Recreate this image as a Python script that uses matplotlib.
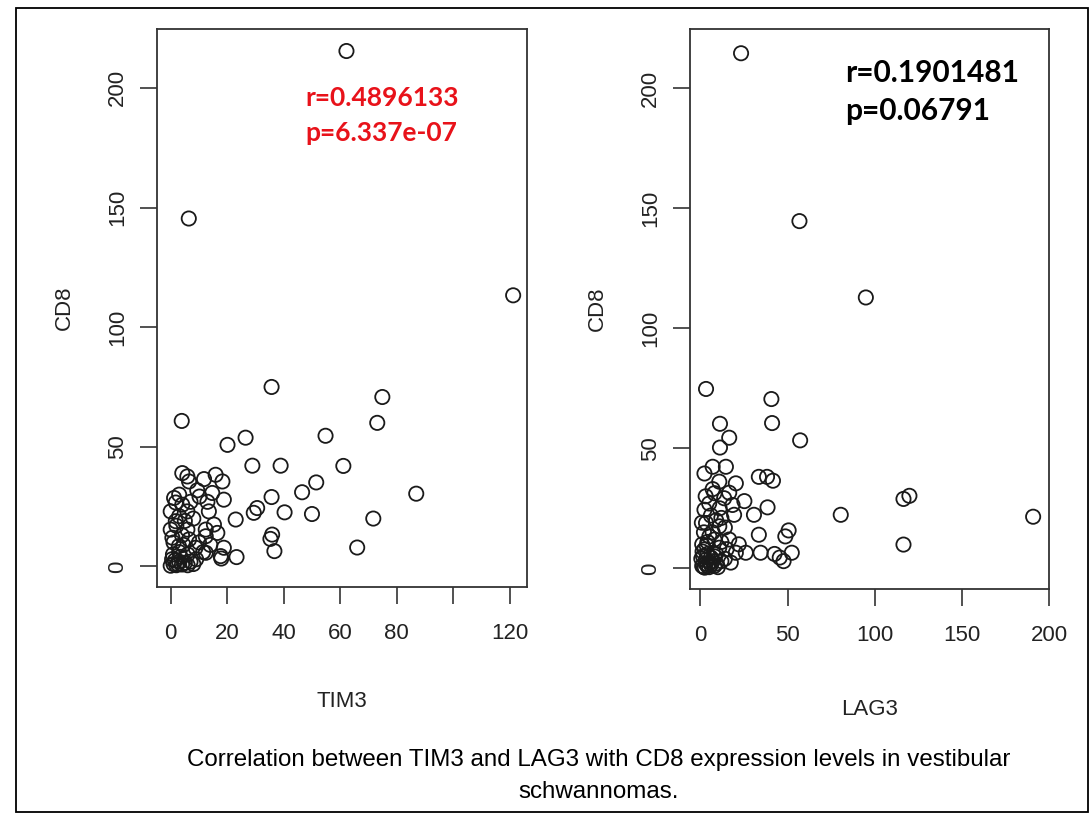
import matplotlib.pyplot as plt
from matplotlib.patches import Rectangle

# TIM3 vs CD8 (left panel)
tim3 = [62.2, 6.4, 121.2, 35.7, 74.9, 3.9, 73.1, 26.5, 54.8, 20.1, 28.9, 38.9, 61.1,
        46.5, 51.5, 86.9, 35.7, 30.6, 29.4, 40.3, 50.0, 71.7, 66.0, 23.0, 35.9, 35.3,
        36.7, 23.3, 17.9, 18.8,
        4.1, 5.9, 6.5, 11.8, 15.9, 18.3, 9.4, 14.7, 18.8, 10.2, 1.2, 4.1, 5.9, 0.0,
        13.5, 1.8, 12.4, 15.3, 12.4, 16.5, 0.0, 0.6, 5.9, 6.5, 2.9, 8.8, 12.4, 11.5,
        17.7, 1.8, 5.0, 3.0, 8.0, 2.0, 4.0, 1.0, 3.0, 6.0, 9.0, 14.0, 10.0, 7.0, 3.0,
        13.0, 0.5, 1.0, 2.0, 3.0, 4.0, 5.0, 6.0, 0.0, 1.5, 2.5, 7.0, 8.0, 3.5, 0.8, 4.5]
cd8_left = [215.4, 145.4, 113.3, 75.0, 70.8, 60.8, 60.0, 53.8, 54.6, 50.8, 42.1, 42.1, 42.0,
            31.0, 35.1, 30.4, 29.0, 24.4, 22.4, 22.6, 21.9, 20.0, 7.9, 19.6, 13.3, 11.5,
            6.4, 3.9, 3.3, 7.8,
            39.0, 37.6, 35.5, 36.5, 38.3, 35.5, 31.8, 30.7, 27.9, 29.2, 28.6, 25.8, 23.0, 23.0,
            23.0, 26.7, 15.4, 17.5, 12.6, 14.0, 15.4, 12.0, 15.4, 11.3, 8.5, 7.8, 5.7, 6.0,
            4.3, 18.9, 19.0, 21.0, 20.0, 17.0, 13.0, 10.0, 6.0, 5.0, 3.0, 9.0, 10.0, 27.0, 30.0,
            27.0, 3.0, 1.0, 0.5, 2.0, 0.8, 1.5, 0.5, 0.3, 2.5, 1.0, 2.0, 1.0, 4.0, 5.0, 9.0]

# LAG3 vs CD8 (right panel)
lag3 = [23.3, 56.8, 94.9, 3.2, 40.7, 11.2, 41.1, 57.2, 11.2, 16.5, 80.5, 190.9, 116.5,
        119.9, 116.5, 2.3, 7.0, 14.6, 10.8, 20.3, 33.5, 38.2, 41.6, 8.0, 16.5, 13.6, 25.2,
        18.4, 2.3, 38.5, 30.7, 19.3, 3.2, 10.8, 33.5, 50.6, 48.7, 5.1, 16.5, 2.3, 10.8,
        20.3, 26.0, 34.5, 42.5, 52.4, 47.7, 17.4, 45.5,
        1.0, 2.0, 3.0, 4.0, 5.0, 6.0, 7.0, 8.0, 9.0, 10.0, 0.5, 1.5, 3.0, 4.0, 6.0, 8.0,
        12.0, 14.0, 1.0, 4.0, 7.0, 9.0, 12.0, 5.0, 7.0, 6.0, 3.0, 11.0, 14.0, 12.0, 8.0,
        2.0, 15.0, 22.0, 9.0, 2.5, 5.5, 1.2, 3.6, 0.8]
cd8_right = [214.5, 144.6, 112.8, 74.7, 70.5, 60.2, 60.5, 53.3, 50.3, 54.4, 22.3, 21.5, 28.9,
             30.2, 9.9, 39.5, 42.3, 42.3, 36.1, 35.4, 38.1, 38.1, 36.5, 31.3, 31.5, 29.2, 28.0,
             26.4, 24.4, 25.4, 22.3, 22.3, 18.9, 17.5, 14.0, 15.8, 13.3, 13.3, 12.0, 7.9, 8.6,
             6.5, 6.5, 6.5, 6.0, 6.5, 3.0, 2.4, 4.5,
             1.0, 0.5, 2.0, 1.0, 0.5, 1.5, 3.0, 1.0, 2.0, 0.5, 4.0, 5.0, 3.5, 6.0, 4.5, 5.0,
             3.0, 4.0, 10.0, 11.0, 15.0, 20.0, 21.0, 27.0, 33.0, 22.0, 30.0, 25.0, 17.0, 11.0, 12.0,
             15.0, 8.0, 10.0, 6.0, 0.3, 2.5, 7.0, 9.5, 19.0]

W, H = 1091, 816
fig = plt.figure(figsize=(W / 100, H / 100), dpi=100)
plt.rcParams['font.family'] = ['Liberation Sans', 'DejaVu Sans']

# outer frame of the figure
fig.patches.append(Rectangle((16 / W, 1 - 812 / H), 1072 / W, 804 / H, transform=fig.transFigure,
                             fill=False, edgecolor='black', linewidth=1.3))


def px_axes(l, t, r, b):
    return fig.add_axes([l / W, 1 - b / H, (r - l) / W, (b - t) / H])


def style(ax, x, y, xticks, xlabels, xlim, xlabel, xpad):
    ax.scatter(x, y, s=105, facecolors='none', edgecolors='#1a1a1a', linewidths=1.3)
    ax.set_xlim(*xlim)
    ax.set_ylim(-8.6, 224.6)
    ax.set_xticks(xticks)
    ax.set_xticklabels(xlabels)
    ax.set_yticks([0, 50, 100, 150, 200])
    ax.set_yticklabels(['0', '50', '100', '150', '200'], rotation=90, va='center')
    ax.tick_params(length=12, width=1.2, labelsize=16, color='#333333', labelcolor='#222222')
    ax.tick_params(axis='x', pad=14)
    ax.tick_params(axis='y', pad=9)
    for sp in ax.spines.values():
        sp.set_linewidth(1.3)
        sp.set_color('#333333')
    ax.set_xlabel(xlabel, fontsize=16, labelpad=xpad, color='#222222')
    ax.set_ylabel('CD8', fontsize=16, labelpad=23, color='#222222')


ax1 = px_axes(157, 29, 527, 587)
style(ax1, tim3, cd8_left, [0, 20, 40, 60, 80, 100, 120], ['0', '20', '40', '60', '80', '', '120'],
      (-4.85, 126.1), 'TIM3', 34)
ax1.text(0.40, 0.876, 'r=0.4896133', transform=ax1.transAxes, color='#e8121a',
         fontsize=19, fontweight='bold', family=['Lato', 'DejaVu Sans'], va='center')
ax1.text(0.40, 0.813, 'p=6.337e-07', transform=ax1.transAxes, color='#e8121a',
         fontsize=19, fontweight='bold', family=['Lato', 'DejaVu Sans'], va='center')

ax2 = px_axes(690, 29, 1049, 589)
style(ax2, lag3, cd8_right, [0, 50, 100, 150, 200], ['0', '50', '100', '150', '200'],
      (-6.0, 198.0), 'LAG3', 38)
ax2.text(0.432, 0.922, 'r=0.1901481', transform=ax2.transAxes, color='black',
         fontsize=21.5, fontweight='bold', family=['Lato', 'DejaVu Sans'], va='center')
ax2.text(0.432, 0.854, 'p=0.06791', transform=ax2.transAxes, color='black',
         fontsize=21.5, fontweight='bold', family=['Lato', 'DejaVu Sans'], va='center')

fig.text(599 / W, 1 - 760 / H, 'Correlation between TIM3 and LAG3 with CD8 expression levels in vestibular',
         ha='center', va='center', fontsize=17.4, color='black')
fig.text(599 / W, 1 - 792 / H, 'schwannomas.', ha='center', va='center', fontsize=17.4, color='black')

fig.savefig('out.png', dpi=100)
